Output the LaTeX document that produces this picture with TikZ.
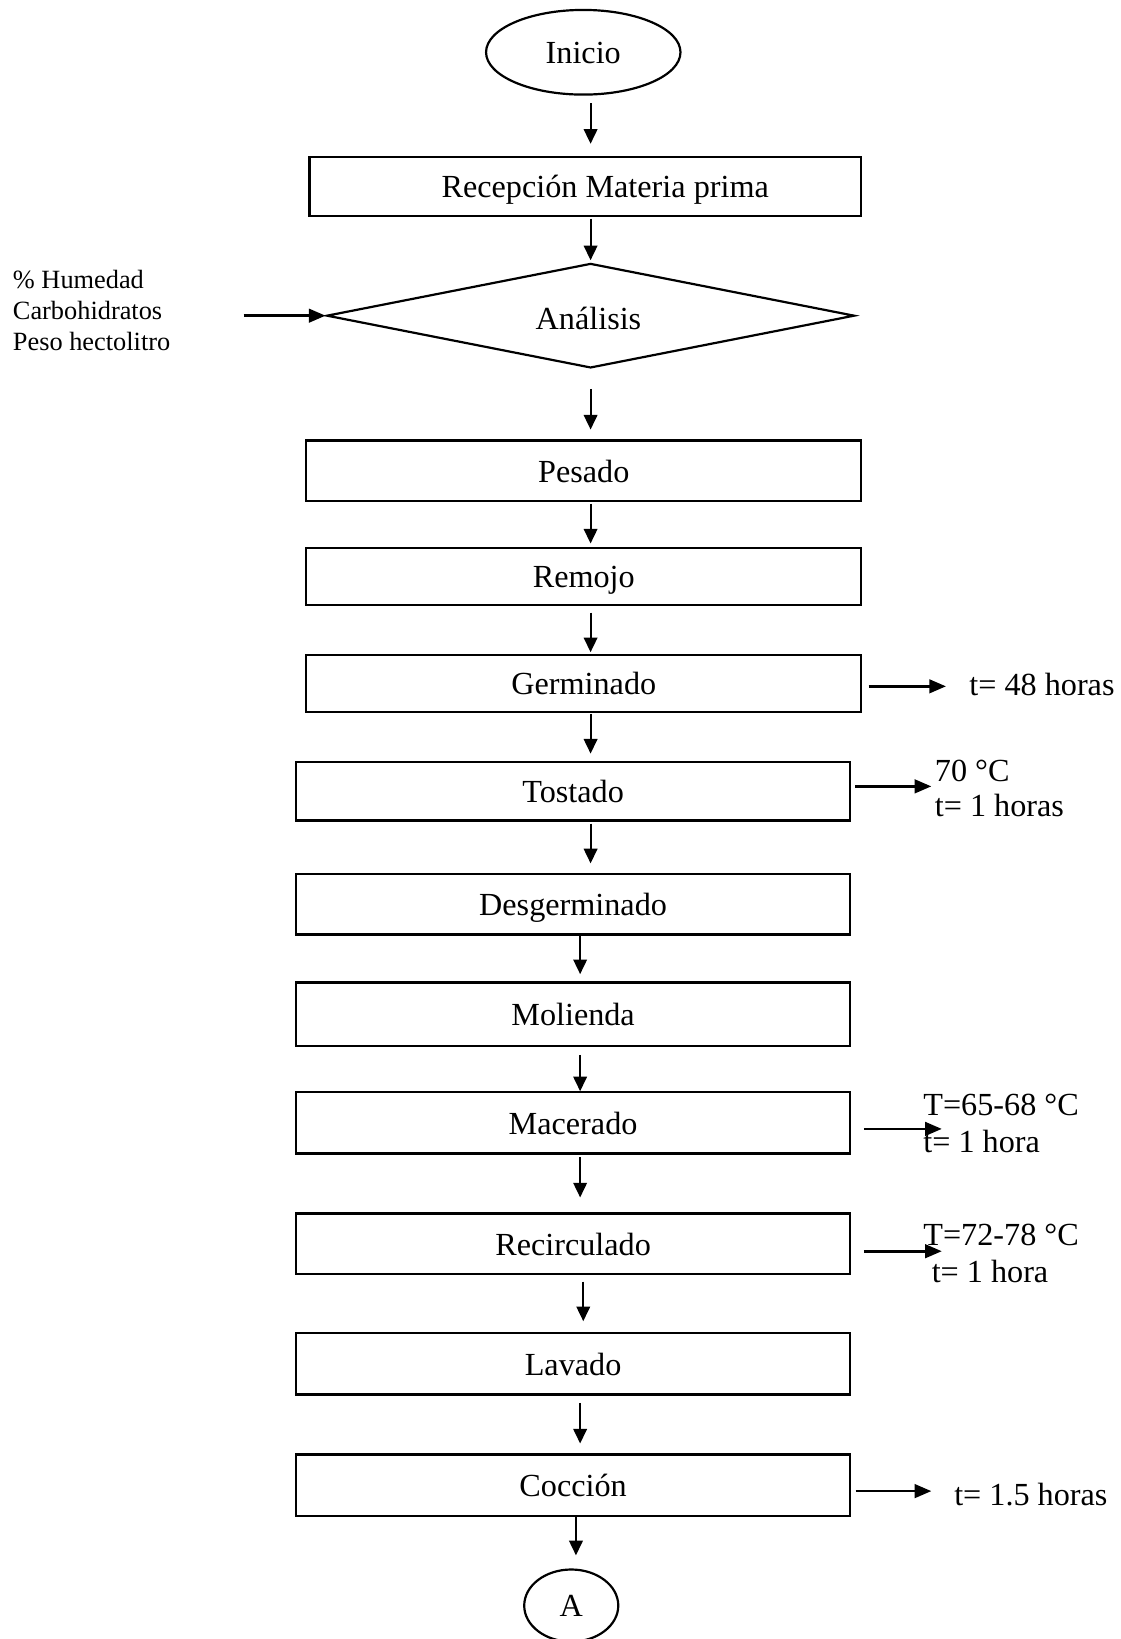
\documentclass[tikz,border=0pt]{standalone}
\usepackage{fontspec}
\setmainfont{Liberation Serif}
\usetikzlibrary{shapes.geometric,arrows.meta}
\begin{document}
\begin{tikzpicture}[x=0.5pt,y=-0.5pt,
  mainf/.style={font=\fontsize{15.4pt}{18pt}\selectfont},
  smallf/.style={font=\fontsize{12.6pt}{15pt}\selectfont},
  box/.style={draw, rectangle, line width=1.05pt, inner sep=0pt, text height=12pt, text depth=1pt, mainf},
  oval/.style={draw, ellipse, line width=1.05pt, inner sep=0pt, text height=12pt, text depth=1.5pt, mainf},
  arr/.style={line width=0.9pt, -{Triangle[length=7pt,width=6.5pt]}},
  sarr/.style={line width=1.25pt, -{Triangle[length=8pt,width=6.5pt]}},
  lbl/.style={anchor=base west, inner sep=0pt, mainf},
  lbls/.style={anchor=base west, inner sep=0pt, smallf}]
\useasboundingbox (0,0) rectangle (1072,1568);

% nodes
\node[oval, minimum width=93pt, minimum height=40.5pt] (inicio) at (558,50) {Inicio};
\node[box, minimum width=264pt, minimum height=28.3pt] (rec) at (560,178.3) {\hspace*{19pt}Recepción Materia prima};
\node[diamond, draw, line width=1.05pt, inner sep=0pt, minimum width=252.5pt, minimum height=50pt] (dia) at (565,302) {};
\node[mainf, inner sep=0pt, text height=12pt, text depth=1pt] (diatxt) at (563,304.6) {Análisis};
\node[box, minimum width=265.5pt, minimum height=28.8pt] (pes) at (558.5,450.2) {Pesado};
\node[box, minimum width=265.5pt, minimum height=27.5pt] (rem) at (558.5,551.5) {Remojo};
\node[box, minimum width=265.5pt, minimum height=27.25pt] (ger) at (558.5,653.75) {Germinado};
\node[box, minimum width=265.25pt, minimum height=28pt] (tos) at (548.25,757) {Tostado};
\node[box, minimum width=265.25pt, minimum height=29.1pt] (des) at (548.25,864.9) {Desgerminado};
\node[box, minimum width=265.25pt, minimum height=30.5pt] (mol) at (548.25,970.5) {Molienda};
\node[box, minimum width=265.25pt, minimum height=29.3pt] (mac) at (548.25,1074.3) {Macerado};
\node[box, minimum width=265.25pt, minimum height=29pt] (rci) at (548.25,1190) {Recirculado};
\node[box, minimum width=265.25pt, minimum height=29.5pt] (lav) at (548.25,1304.5) {Lavado};
\node[box, minimum width=265.25pt, minimum height=29.25pt] (coc) at (548.25,1420.75) {Cocción};
\node[oval, minimum width=45pt, minimum height=34.5pt] (A) at (546.5,1536) {A};

% arrow columns
\coordinate (xa) at (565,0);
\coordinate (xb) at (555,0);
\coordinate (xc) at (558,0);
\coordinate (xd) at (551,0);

% vertical connectors
\draw[arr, shorten <=3.5pt, shorten >=5.7pt] (inicio.south -| xa) -- (rec.north -| xa);
\draw[arr, shorten <=0.7pt, shorten >=1pt] (rec.south -| xa) -- (dia.north -| xa);
\draw[arr, shorten <=9.5pt, shorten >=4.7pt] (dia.south -| xa) -- (pes.north -| xa);
\draw[arr, shorten <=1pt, shorten >=1.5pt] (pes.south -| xa) -- (rem.north -| xa);
\draw[arr, shorten <=3pt, shorten >=0.75pt] (rem.south -| xa) -- (ger.north -| xa);
\draw[arr, shorten <=0.5pt, shorten >=3.5pt] (ger.south -| xa) -- (tos.north -| xa);
\draw[arr, shorten <=1pt, shorten >=4.4pt] (tos.south -| xa) -- (des.north -| xa);
\draw[arr, shorten <=-1pt, shorten >=3.5pt] (des.south -| xb) -- (mol.north -| xb);
\draw[arr, shorten <=3.5pt, shorten >=0pt] (mol.south -| xb) -- (mac.north -| xb);
\draw[arr, shorten <=1.2pt, shorten >=7.2pt] (mac.south -| xb) -- (rci.north -| xb);
\draw[arr, shorten <=3pt, shorten >=5pt] (rci.south -| xc) -- (lav.north -| xc);
\draw[arr, shorten <=3.5pt, shorten >=4.75pt] (lav.south -| xb) -- (coc.north -| xb);
\draw[arr, shorten <=0pt, shorten >=6.25pt] (coc.south -| xd) -- (A.north -| xd);

% input to Analisis
\coordinate (inp) at (233,302);
\draw[sarr] (inp) -- (dia.west);
\node[lbls] (l1) at (12,276) {\% Humedad};
\node[lbls] (l2) at (12,306) {Carbohidratos};
\node[lbls] (l3) at (12,335) {Peso hectolitro};

% side outputs
\coordinate (ge) at (905,656.6);
\draw[sarr, shorten <=3pt] (ger.east |- ge) -- (ge);
\node[lbl] (gt) at (927,665.6) {t= 48 horas};

\coordinate (te) at (891,752.3);
\draw[sarr, shorten <=1.75pt] (tos.east |- te) -- (te);
\node[lbl] (tt1) at (894,747.5) {70 °C};
\node[lbl] (tt2) at (894,781) {t= 1 horas};

\coordinate (me) at (901,1080);
\draw[sarr, shorten <=6pt] (mac.east |- me) -- (me);
\node[lbl] (mt1) at (883,1067) {T=65-68 °C};
\node[lbl] (mt2) at (883,1103) {t= 1 hora};

\coordinate (re) at (901,1197);
\draw[sarr, shorten <=6pt] (rci.east |- re) -- (re);
\node[lbl] (rt1) at (883,1192) {T=72-78 °C};
\node[lbl] (rt2) at (891,1227) {t= 1 hora};

\coordinate (ce) at (891,1426.5);
\draw[sarr, shorten <=2pt] (coc.east |- ce) -- (ce);
\node[lbl] (ct) at (912.5,1440) {t= 1.5 horas};
\end{tikzpicture}
\end{document}
